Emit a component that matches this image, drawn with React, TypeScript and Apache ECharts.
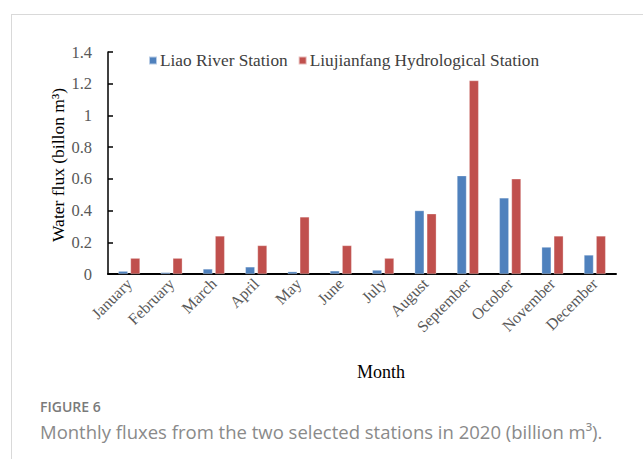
import React, { useEffect, useRef } from "react";
import * as echarts from "echarts";

const months = [
  "January", "February", "March", "April", "May", "June",
  "July", "August", "September", "October", "November", "December",
];
const liaoRiver = [0.018, 0.01, 0.032, 0.045, 0.015, 0.02, 0.025, 0.4, 0.62, 0.48, 0.17, 0.12];
const liujianfang = [0.1, 0.1, 0.24, 0.18, 0.36, 0.18, 0.1, 0.38, 1.22, 0.6, 0.24, 0.24];
const seriesNames = ["Liao River Station", "Liujianfang Hydrological Station"];
const yTicks = { min: 0, max: 1.4, interval: 0.2 };

const SERIF = "'Liberation Serif', 'Times New Roman', serif";
const SANS = "'Open Sans', 'Noto Sans', sans-serif";

export default function App() {
  const ref = useRef<HTMLDivElement>(null);

  useEffect(() => {
    if (!ref.current) return;
    const chart = echarts.init(ref.current, null, { renderer: "svg" });
    chart.setOption({
      animation: false,
      backgroundColor: "#ffffff",
      color: ["#4F81BD", "#C0504D"],
      grid: { left: 108, right: 27, top: 52, bottom: 185 },
      legend: {
        left: 143,
        top: 47,
        itemWidth: 8,
        itemHeight: 8,
        itemGap: 10,
        icon: "rect",
        textStyle: { fontFamily: SERIF, fontSize: 17.3, color: "#404040", padding: [0, 0, 0, -2] },
        data: seriesNames,
      },
      xAxis: {
        type: "category",
        data: months,
        boundaryGap: true,
        axisLine: { lineStyle: { color: "#000", width: 2 } },
        axisTick: { inside: true, length: 4, lineStyle: { color: "#000", width: 2 } },
        axisLabel: {
          rotate: 45,
          margin: 7,
          fontFamily: SERIF,
          fontSize: 16,
          color: "#595959",
        },
      },
      yAxis: {
        type: "value",
        min: yTicks.min,
        max: yTicks.max,
        interval: yTicks.interval,
        splitLine: { show: false },
        axisLine: { show: true, lineStyle: { color: "#000", width: 1.5 } },
        axisTick: { show: true, inside: true, length: 5, lineStyle: { color: "#000", width: 1.5 } },
        axisLabel: { fontFamily: SERIF, fontSize: 16.5, color: "#595959", margin: 16 },
      },
      series: [
        {
          name: seriesNames[0],
          type: "bar",
          data: liaoRiver,
          barWidth: 9.5,
          barGap: "28%",
          itemStyle: { borderColor: "rgba(255,255,255,0.6)", borderWidth: 0.5 },
        },
        {
          name: seriesNames[1],
          type: "bar",
          data: liujianfang,
          barWidth: 9.5,
          barGap: "28%",
          itemStyle: { borderColor: "rgba(255,255,255,0.6)", borderWidth: 0.5 },
        },
      ],
      graphic: [
        {
          type: "line",
          shape: { x1: 11, y1: 14.5, x2: 643, y2: 14.5 },
          style: { stroke: "#d9d9d9", lineWidth: 1 },
        },
        {
          type: "line",
          shape: { x1: 11.5, y1: 14, x2: 11.5, y2: 459 },
          style: { stroke: "#d9d9d9", lineWidth: 1 },
        },
        {
          type: "text",
          x: 58,
          y: 165,
          rotation: Math.PI / 2,
          style: {
            text: "Water flux (billon m³)",
            font: `17.5px ${SERIF}`,
            fill: "#000",
            align: "center",
            verticalAlign: "middle",
          },
        },
        {
          type: "text",
          x: 381,
          y: 372,
          style: {
            text: "Month",
            font: `18px ${SERIF}`,
            fill: "#000",
            align: "center",
            verticalAlign: "middle",
          },
        },
        {
          type: "text",
          x: 40,
          y: 406,
          style: {
            text: "FIGURE 6",
            font: `600 14px ${SANS}`,
            fill: "#7a7a7a",
            verticalAlign: "middle",
          },
        },
        {
          type: "text",
          x: 40,
          y: 431,
          style: {
            text: "Monthly fluxes from the two selected stations in 2020 (billion m³).",
            font: `18.5px ${SANS}`,
            fill: "#8a8a8a",
            verticalAlign: "middle",
          },
        },
      ],
    });
    return () => chart.dispose();
  }, []);

  return (
    <div
      ref={ref}
      style={{ position: "fixed", left: 0, top: 0, width: 643, height: 459 }}
    />
  );
}
